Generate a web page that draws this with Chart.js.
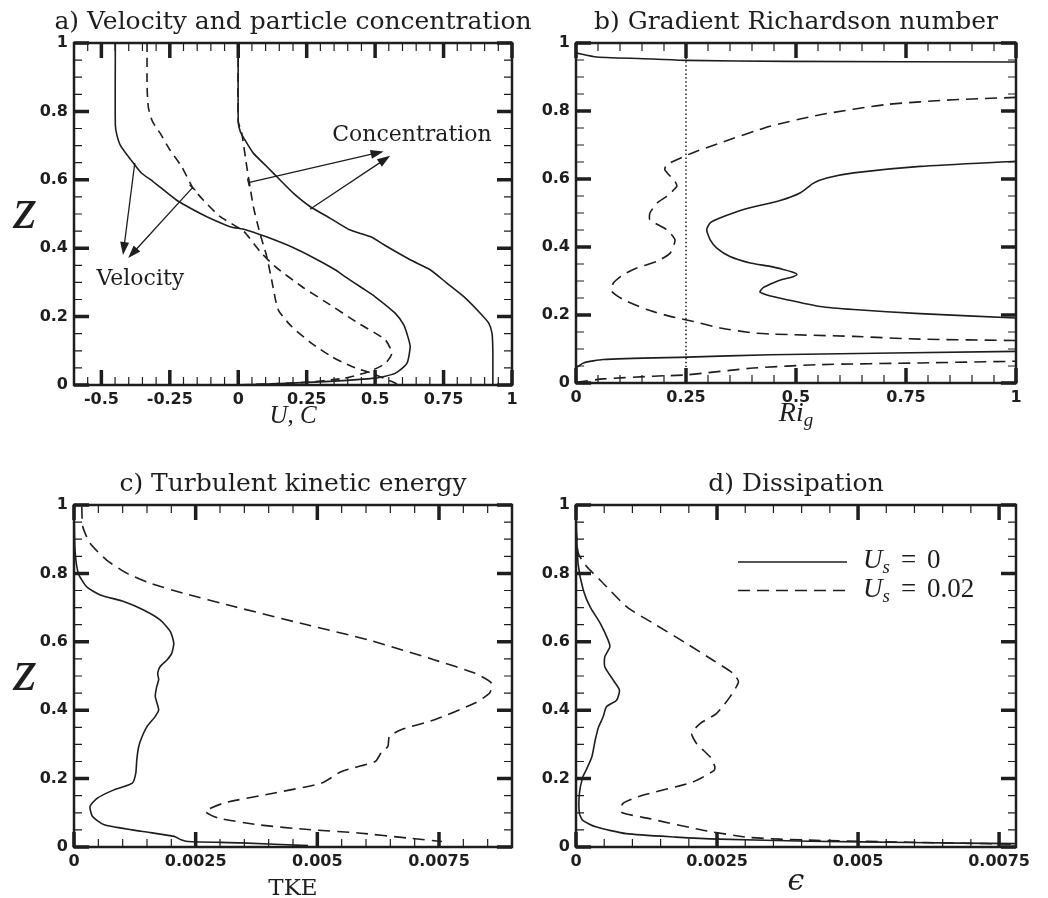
<!DOCTYPE html>
<html>
<head>
<meta charset="utf-8">
<title>Profiles of velocity, concentration, Ri, TKE and dissipation</title>
<script src="https://cdn.jsdelivr.net/npm/chart.js@4.4.1/dist/chart.umd.min.js"></script>
<style>
  html, body { margin: 0; padding: 0; background: #fff; }
  #wrap { position: relative; width: 1048px; height: 898px; overflow: hidden; }
  #wrap canvas { position: absolute; }
</style>
</head>
<body>
<div id="wrap">
  <canvas id="pa" width="586" height="445" style="left:0;top:0;width:586px;height:445px"></canvas>
  <canvas id="pb" width="524" height="445" style="left:524px;top:0;width:524px;height:445px"></canvas>
  <canvas id="pc" width="524" height="453" style="left:0;top:445px;width:524px;height:453px"></canvas>
  <canvas id="pd" width="524" height="453" style="left:524px;top:445px;width:524px;height:453px"></canvas>
</div>
<script>
// ======================
// Data: every profile is a list of [value, z] pairs
// ======================

// a) velocity and particle concentration
const velSolid = [[-0.449,1],[-0.449,0.76],[-0.443,0.73],[-0.43,0.7],[-0.393,0.659],[-0.354,0.62],[-0.311,0.595],
  [-0.226,0.541],[-0.14,0.502],[-0.091,0.483],[-0.03,0.463],[0.026,0.454],[0.1,0.434],[0.2,0.402],[0.28,0.37],
  [0.354,0.337],[0.39,0.317],[0.45,0.285],[0.5,0.258],[0.573,0.21],[0.605,0.175],[0.62,0.14],[0.628,0.112],
  [0.616,0.063],[0.573,0.034],[0.5,0.02],[0.317,0.01],[0.11,0.003],[0,0]];
const velDash = [[-0.333,1],[-0.333,0.87],[-0.328,0.81],[-0.313,0.77],[-0.286,0.737],[-0.25,0.688],[-0.207,0.639],
  [-0.167,0.578],[-0.128,0.541],[-0.067,0.493],[0.02,0.449],[0.08,0.39],[0.135,0.346],[0.232,0.288],[0.317,0.244],
  [0.44,0.18],[0.537,0.132],[0.561,0.093],[0.537,0.063],[0.476,0.039],[0.39,0.02],[0.232,0.007],[0.098,0.003],[0,0]];
const concSolid = [[0,1],[0,0.77],[0.008,0.74],[0.024,0.717],[0.055,0.678],[0.104,0.639],[0.152,0.6],[0.201,0.561],
  [0.262,0.522],[0.335,0.488],[0.409,0.453],[0.482,0.434],[0.543,0.405],[0.628,0.366],[0.701,0.337],[0.762,0.298],
  [0.823,0.259],[0.884,0.21],[0.915,0.181],[0.927,0.151],[0.93,0.1],[0.93,0]];
const concDash = [[0,1],[0,0.77],[0.012,0.74],[0.031,0.639],[0.043,0.58],[0.055,0.522],[0.079,0.444],[0.104,0.376],
  [0.122,0.307],[0.146,0.22],[0.195,0.171],[0.268,0.122],[0.341,0.083],[0.415,0.054],[0.488,0.034],[0.561,0.01],[0.585,0]];

// b) gradient Richardson number
const riSolidTop = [[0,0.971],[0.047,0.959],[0.176,0.953],[0.252,0.949],[0.479,0.946],[1,0.944]];
const riSolidMid = [[1,0.652],[0.782,0.637],[0.631,0.618],[0.57,0.603],[0.54,0.588],[0.509,0.559],[0.464,0.537],
  [0.381,0.51],[0.327,0.485],[0.305,0.471],[0.297,0.451],[0.305,0.421],[0.32,0.397],[0.35,0.372],[0.396,0.353],
  [0.441,0.343],[0.471,0.334],[0.493,0.326],[0.502,0.319],[0.492,0.312],[0.47,0.305],[0.449,0.295],[0.426,0.281],
  [0.418,0.268],[0.434,0.259],[0.479,0.245],[0.555,0.225],[0.631,0.216],[0.782,0.204],[1,0.191]];
const riSolidBot = [[0,0.044],[0.017,0.059],[0.062,0.069],[0.252,0.076],[0.441,0.083],[1,0.093]];
const riDashTop = [[1,0.84],[0.858,0.833],[0.705,0.819],[0.555,0.789],[0.441,0.755],[0.327,0.706],[0.263,0.676],
  [0.206,0.642],[0.202,0.627],[0.225,0.593],[0.229,0.578],[0.206,0.549],[0.184,0.529],[0.168,0.5],[0.168,0.48],
  [0.206,0.451],[0.225,0.421],[0.214,0.382],[0.184,0.358],[0.138,0.338],[0.108,0.319],[0.085,0.294],[0.081,0.27],
  [0.108,0.245],[0.161,0.216],[0.214,0.196],[0.267,0.181],[0.327,0.162],[0.403,0.147],[0.441,0.144],[0.631,0.137],
  [0.782,0.129],[1,0.125]];
const riDashBot = [[0,0.002],[0.062,0.012],[0.176,0.02],[0.252,0.024],[0.403,0.044],[0.555,0.054],[0.782,0.059],[1,0.064]];
const riCritical = [[0.25,0],[0.25,1]];

// c) turbulent kinetic energy
const tkeSolid = [[0,1],[0.00002,0.87],[0.00009,0.8],[0.00026,0.761],[0.00054,0.737],[0.00102,0.718],[0.00143,0.693],
  [0.00177,0.664],[0.00198,0.63],[0.00205,0.596],[0.00201,0.567],[0.00191,0.547],[0.00177,0.528],[0.00172,0.508],
  [0.00174,0.489],[0.0017,0.469],[0.00167,0.44],[0.00174,0.401],[0.00167,0.382],[0.0015,0.352],[0.0014,0.323],
  [0.00133,0.294],[0.00129,0.255],[0.00127,0.216],[0.0012,0.187],[0.00082,0.167],[0.00048,0.143],[0.00033,0.119],
  [0.00038,0.089],[0.00062,0.065],[0.00138,0.046],[0.00206,0.031],[0.0022,0.021],[0.00234,0.016],[0.00344,0.012],[0.00481,0.004]];
const tkeDash = [[0.00016,0.995],[0.00018,0.937],[0.00033,0.888],[0.00067,0.839],[0.00109,0.8],[0.00157,0.771],
  [0.00225,0.742],[0.00329,0.703],[0.00466,0.654],[0.00604,0.606],[0.00741,0.547],[0.00824,0.508],[0.00858,0.479],
  [0.00854,0.45],[0.00824,0.421],[0.00741,0.372],[0.00672,0.343],[0.00648,0.323],[0.00645,0.294],[0.00631,0.275],
  [0.00619,0.25],[0.0055,0.221],[0.00509,0.187],[0.00412,0.158],[0.00309,0.129],[0.0027,0.104],[0.00296,0.085],
  [0.00378,0.065],[0.00481,0.051],[0.00584,0.041],[0.00687,0.026],[0.00756,0.016]];

// d) dissipation
const epsSolid = [[0,1],[0.00001,0.917],[0.00004,0.824],[0.00013,0.751],[0.00025,0.702],[0.00043,0.654],[0.00057,0.605],
  [0.0006,0.585],[0.00051,0.556],[0.00051,0.527],[0.00066,0.488],[0.00077,0.459],[0.00072,0.429],[0.00054,0.41],
  [0.00048,0.38],[0.0004,0.351],[0.00034,0.312],[0.00028,0.263],[0.00018,0.225],[0.00012,0.205],[0.00006,0.156],
  [0.00006,0.098],[0.00012,0.078],[0.00035,0.059],[0.00089,0.039],[0.00177,0.029],[0.00254,0.023],[0.00414,0.017],
  [0.00591,0.013],[0.0078,0.01]];
const epsDash = [[0,0.93],[0.00004,0.859],[0.00019,0.82],[0.00043,0.78],[0.0009,0.702],[0.00137,0.654],[0.00196,0.595],
  [0.00243,0.546],[0.00279,0.507],[0.00288,0.483],[0.00273,0.439],[0.00249,0.39],[0.0022,0.361],[0.00205,0.332],
  [0.00214,0.302],[0.00238,0.263],[0.00246,0.236],[0.00245,0.224],[0.00207,0.19],[0.00118,0.151],[0.00083,0.127],
  [0.0008,0.102],[0.0013,0.083],[0.00225,0.049],[0.00307,0.028],[0.00414,0.02],[0.00591,0.014],[0.0078,0.008]];

// tick labels
const zTicks = [0, 0.2, 0.4, 0.6, 0.8, 1];
const uTicks = [-0.5, -0.25, 0, 0.25, 0.5, 0.75, 1];
const riTicks = [0, 0.25, 0.5, 0.75, 1];
const tkeTicks = [0, 0.0025, 0.005, 0.0075];
const epsTicks = [0, 0.0025, 0.005, 0.0075];

// texts
const titles = ['a) Velocity and particle concentration', 'b) Gradient Richardson number',
  'c) Turbulent kinetic energy', 'd) Dissipation'];
const legendLabels = ['U_s = 0', 'U_s = 0.02'];
const notes = [['Concentration', 0.343, 0.712], ['Velocity', -0.518, 0.293]];
// arrows in panel a: [x0, z0, x1, z1, bar at start]
const arrowsA = [[-0.378,0.649,-0.421,0.38,0],[-0.167,0.577,-0.402,0.371,1],
  [0.037,0.592,0.531,0.683,1],[0.262,0.514,0.555,0.67,0]];

// ======================
// Drawing helpers
// ======================
const INK = '#1e1e1e';
const SERIF = '"DejaVu Serif", serif';
const MATH = '"Liberation Serif", "DejaVu Serif", serif';

function rich(ctx, parts, x, y, align) {
  let w = 0;
  parts.forEach(p => { ctx.font = p.font; w += ctx.measureText(p.t).width + (p.gap || 0); });
  let cx = align === 'center' ? x - w / 2 : x;
  ctx.textAlign = 'left';
  parts.forEach(p => {
    ctx.font = p.font;
    ctx.fillText(p.t, cx, y + (p.dy || 0));
    cx += ctx.measureText(p.t).width + (p.gap || 0);
  });
}

function usLabel(val) {
  return [
    {t: 'U', font: 'italic 27px ' + MATH},
    {t: 's', font: 'italic 19px ' + MATH, dy: 5, gap: 11},
    {t: '=', font: '27px ' + MATH, gap: 11},
    {t: val, font: '27px ' + MATH}
  ];
}

function makeFrame(o) {
  return {
    id: 'frame',
    afterDatasetsDraw(chart) {
      const {ctx, chartArea: a} = chart;
      const sx = chart.scales.x, sy = chart.scales.y;
      ctx.save();
      ctx.strokeStyle = INK;
      ctx.fillStyle = INK;

      // minor ticks, pointing inward on all four sides
      const eachMinor = (s, step, fn) => {
        const i0 = Math.ceil(s.min / step - 1e-6), i1 = Math.floor(s.max / step + 1e-6);
        for (let i = i0; i <= i1; i++) fn(s.getPixelForValue(i * step));
      };
      ctx.lineWidth = 1.2;
      ctx.beginPath();
      eachMinor(sx, o.xMinor, px => {
        ctx.moveTo(px, a.bottom); ctx.lineTo(px, a.bottom - 8);
        ctx.moveTo(px, a.top); ctx.lineTo(px, a.top + 8);
      });
      eachMinor(sy, 0.05, py => {
        ctx.moveTo(a.left, py); ctx.lineTo(a.left + 8, py);
        ctx.moveTo(a.right, py); ctx.lineTo(a.right - 8, py);
      });
      ctx.stroke();

      // major ticks
      ctx.lineWidth = 3.5;
      ctx.beginPath();
      o.xMajor.forEach(v => {
        const px = sx.getPixelForValue(v);
        ctx.moveTo(px, a.bottom); ctx.lineTo(px, a.bottom - 15);
        ctx.moveTo(px, a.top); ctx.lineTo(px, a.top + 15);
      });
      zTicks.forEach(v => {
        const py = sy.getPixelForValue(v);
        ctx.moveTo(a.left, py); ctx.lineTo(a.left + 15, py);
        ctx.moveTo(a.right, py); ctx.lineTo(a.right - 15, py);
      });
      ctx.stroke();

      ctx.lineWidth = 2.5;
      ctx.strokeRect(a.left, a.top, a.right - a.left, a.bottom - a.top);

      // panel title, centred over the plot area
      ctx.textBaseline = 'alphabetic';
      ctx.textAlign = 'center';
      ctx.font = '25px ' + SERIF;
      ctx.fillText(o.title, (a.left + a.right) / 2, a.top - 14);

      // axis titles
      rich(ctx, o.xTitle, (a.left + a.right) / 2, a.bottom + o.xTitleDy, 'center');
      if (o.yTitle) {
        ctx.font = 'italic 60px ' + MATH;
        ctx.textAlign = 'center';
        ctx.fillText('z', 25, (a.top + a.bottom) / 2 + 14);
      }

      // arrows and notes
      if (o.arrows) {
        ctx.lineWidth = 1.3;
        o.arrows.forEach(([x0, z0, x1, z1, bar]) => {
          const p0 = [sx.getPixelForValue(x0), sy.getPixelForValue(z0)];
          const p1 = [sx.getPixelForValue(x1), sy.getPixelForValue(z1)];
          const dx = p1[0] - p0[0], dy = p1[1] - p0[1], len = Math.hypot(dx, dy);
          const ux = dx / len, uy = dy / len;
          ctx.beginPath();
          ctx.moveTo(p0[0], p0[1]);
          ctx.lineTo(p1[0] - ux * 10, p1[1] - uy * 10);
          if (bar) {
            ctx.moveTo(p0[0] - uy * 4, p0[1] + ux * 4);
            ctx.lineTo(p0[0] + uy * 4, p0[1] - ux * 4);
          }
          ctx.stroke();
          ctx.beginPath();
          ctx.moveTo(p1[0], p1[1]);
          ctx.lineTo(p1[0] - ux * 13 - uy * 4.5, p1[1] - uy * 13 + ux * 4.5);
          ctx.lineTo(p1[0] - ux * 13 + uy * 4.5, p1[1] - uy * 13 - ux * 4.5);
          ctx.closePath();
          ctx.fill();
        });
      }
      if (o.notes) {
        ctx.font = '22px ' + SERIF;
        ctx.textAlign = 'left';
        o.notes.forEach(([t, x, z]) => ctx.fillText(t, sx.getPixelForValue(x), sy.getPixelForValue(z)));
      }

      // legend (panel d)
      if (o.legend) {
        const lx = a.left + 162, tx = a.left + 287;
        ctx.lineWidth = 1.6;
        o.legend.forEach((lab, i) => {
          const ly = a.top + 57 + i * 28.5;
          ctx.setLineDash(i ? [12, 7] : []);
          ctx.beginPath(); ctx.moveTo(lx, ly); ctx.lineTo(lx + 109, ly); ctx.stroke();
          ctx.setLineDash([]);
          rich(ctx, usLabel(lab.split('= ')[1]), tx, a.top + 63 + i * 29, 'left');
        });
      }
      ctx.restore();
    }
  };
}

function line(pts, dash, width) {
  return {
    data: pts.map(p => ({x: p[0], y: p[1]})),
    borderColor: INK,
    borderWidth: width || 1.6,
    borderDash: dash || [],
    pointRadius: 0,
    tension: 0.2,
    fill: false
  };
}

function panel(id, box, title, xr, xTicks, datasets, frame) {
  const {W, H, L, T, R, B} = box;
  const tickFont = {family: '"DejaVu Sans", sans-serif', weight: 'bold', size: 16};
  frame.title = title;
  return new Chart(document.getElementById(id), {
    type: 'line',
    data: {datasets},
    plugins: [makeFrame(frame)],
    options: {
      responsive: false,
      animation: false,
      events: [],
      layout: {padding: {left: 0, top: T, bottom: 0, right: W - R}},
      plugins: {
        legend: {display: false},
        tooltip: {enabled: false},
        title: {display: false}
      },
      scales: {
        x: {
          type: 'linear', min: xr[0], max: xr[1],
          afterBuildTicks: s => { s.ticks = xTicks.map(v => ({value: v})); },
          afterFit: s => { s.height = H - B; },
          grid: {display: false, drawTicks: false},
          border: {display: false},
          ticks: {color: INK, font: tickFont, padding: 5, autoSkip: false, maxRotation: 0, callback: v => String(v)}
        },
        y: {
          type: 'linear', min: 0, max: 1,
          afterBuildTicks: s => { s.ticks = zTicks.map(v => ({value: v})); },
          afterFit: s => { s.width = L; },
          grid: {display: false, drawTicks: false},
          border: {display: false},
          ticks: {color: INK, font: tickFont, padding: 6, autoSkip: false, callback: v => String(v)}
        }
      }
    }
  });
}

const D = [9, 6], D2 = [12, 7];

panel('pa', {W: 586, H: 445, L: 74, T: 43, R: 512, B: 385}, titles[0], [-0.6, 1], uTicks,
  [line(velSolid), line(velDash, D), line(concSolid), line(concDash, D)],
  {xMinor: 0.05, xMajor: uTicks, yTitle: true, xTitleDy: 38,
   xTitle: [{t: 'U', font: 'italic 25px ' + MATH}, {t: ', ', font: '25px ' + MATH}, {t: 'C', font: 'italic 25px ' + MATH}],
   arrows: arrowsA, notes: notes});

panel('pb', {W: 524, H: 445, L: 52, T: 43, R: 492, B: 383}, titles[1], [0, 1], riTicks,
  [line(riSolidTop), line(riSolidMid), line(riSolidBot), line(riDashTop, D2), line(riDashBot, D2),
   line(riCritical, [1.5, 2.5], 1.5)],
  {xMinor: 0.05, xMajor: riTicks, xTitleDy: 38,
   xTitle: [{t: 'Ri', font: 'italic 28px ' + MATH}, {t: 'g', font: 'italic 19px ' + MATH, dy: 5}]});

panel('pc', {W: 524, H: 453, L: 74, T: 60, R: 512, B: 402}, titles[2], [0, 0.009], tkeTicks,
  [line(tkeSolid), line(tkeDash, D2)],
  {xMinor: 0.0005, xMajor: tkeTicks, yTitle: true, xTitleDy: 48,
   xTitle: [{t: 'TKE', font: '23px ' + SERIF}]});

panel('pd', {W: 524, H: 453, L: 52, T: 60, R: 492, B: 402}, titles[3], [0, 0.0078], epsTicks,
  [line(epsSolid), line(epsDash, D2)],
  {xMinor: 0.0005, xMajor: epsTicks, xTitleDy: 43, legend: legendLabels,
   xTitle: [{t: 'ϵ', font: 'italic 30px ' + SERIF}]});
</script>
</body>
</html>
